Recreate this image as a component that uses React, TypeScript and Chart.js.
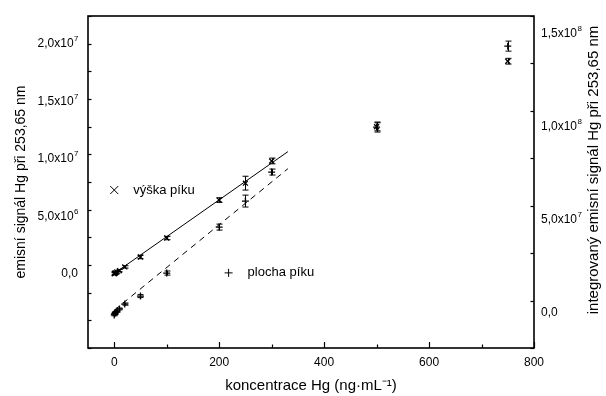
import React, { useEffect, useRef } from 'react';
import { Chart, registerables } from 'chart.js';

Chart.register(...registerables);

// ---- data ----
const concentrations = [0, 1, 2, 5, 10, 20, 50, 100, 200, 250, 300, 500, 750];
// peak height (left axis)
const peakHeight = [0.02e6, 0.06e6, 0.1e6, 0.18e6, 0.3e6, 0.62e6, 1.48e6, 3.13e6, 6.43e6, 7.9e6, 9.83e6, 1.28e7, 1.85e7];
const peakHeightErr = [0.1e6, 0.1e6, 0.1e6, 0.1e6, 0.1e6, 0.1e6, 0.15e6, 0.15e6, 0.2e6, 0.6e6, 0.25e6, 0.35e6, 0.25e6];
// peak area (right axis)
const peakArea = [-1.0e6, -0.3e6, 0.3e6, 1.0e6, 2.2e6, 4.8e6, 9.1e6, 2.15e7, 4.62e7, 6.02e7, 7.58e7, 1.0e8, 1.435e8];
const peakAreaErr = [0.5e6, 0.5e6, 0.5e6, 0.5e6, 0.5e6, 0.6e6, 0.8e6, 1.1e6, 1.6e6, 3.2e6, 1.6e6, 2.7e6, 2.7e6];
// calibration lines
const fitX = [0, 331];
const heightFitY = [0.05e6, 1.064e7];
const areaFitY = [1.5e6, 7.76e7];
// ticks
const xTickValues = [0, 200, 400, 600, 800];
const xTickLabels = ['0', '200', '400', '600', '800'];
const leftTickValues = [0, 5e6, 1e7, 1.5e7, 2e7];
const leftTickLabels = ['0,0', '5,0x10^6', '1,0x10^7', '1,5x10^7', '2,0x10^7'];
const rightTickValues = [0, 5e7, 1e8, 1.5e8];
const rightTickLabels = ['0,0', '5,0x10^7', '1,0x10^8', '1,5x10^8'];
// texts
const legendHeight = 'výška píku';
const legendArea = 'plocha píku';
const xTitle = 'koncentrace Hg (ng·mL\u207B\u00B9)';
const leftTitle = 'emisní signál Hg při 253,65 nm';
const rightTitle = 'integrovaný emisní signál Hg při 253,65 nm';

const FONT = "'Liberation Sans', Arial, sans-serif";

function lookup(values: number[], labels: string[], v: number, tol: number) {
  for (let i = 0; i < values.length; i++) {
    if (Math.abs(values[i] - v) < tol) return labels[i];
  }
  return '';
}

function drawSci(ctx: CanvasRenderingContext2D, label: string, x: number, y: number, align: 'left' | 'right') {
  const [base, exp] = label.split('^');
  ctx.textAlign = 'left';
  ctx.textBaseline = 'middle';
  ctx.font = `12px ${FONT}`;
  const wb = ctx.measureText(base).width;
  ctx.font = `8px ${FONT}`;
  const we = exp ? ctx.measureText(exp).width : 0;
  const start = align === 'right' ? x - wb - we : x;
  ctx.font = `12px ${FONT}`;
  ctx.fillText(base, start, y);
  if (exp) {
    ctx.font = `8px ${FONT}`;
    ctx.fillText(exp, start + wb + 0.5, y - 5);
  }
}

function drawMarker(ctx: CanvasRenderingContext2D, style: string, x: number, y: number, r: number) {
  ctx.beginPath();
  if (style === 'crossRot') {
    ctx.moveTo(x - r, y - r); ctx.lineTo(x + r, y + r);
    ctx.moveTo(x - r, y + r); ctx.lineTo(x + r, y - r);
  } else {
    ctx.moveTo(x - r, y); ctx.lineTo(x + r, y);
    ctx.moveTo(x, y - r); ctx.lineTo(x, y + r);
  }
  ctx.stroke();
}

const framePlugin = {
  id: 'frameAndExtras',
  afterDatasetsDraw(chart: any) {
    const ctx: CanvasRenderingContext2D = chart.ctx;
    const xs = chart.scales.x;
    // error bars
    const sets = [
      { axis: 'yL', vals: peakHeight, errs: peakHeightErr },
      { axis: 'yR', vals: peakArea, errs: peakAreaErr },
    ];
    ctx.save();
    ctx.strokeStyle = '#000';
    ctx.lineWidth = 1;
    sets.forEach((s) => {
      const ys = chart.scales[s.axis];
      concentrations.forEach((c, i) => {
        const px = Math.round(xs.getPixelForValue(c)) + 0.5;
        const y1 = ys.getPixelForValue(s.vals[i] - s.errs[i]);
        const y2 = ys.getPixelForValue(s.vals[i] + s.errs[i]);
        ctx.beginPath();
        ctx.moveTo(px, y1); ctx.lineTo(px, y2);
        ctx.moveTo(px - 3, y1); ctx.lineTo(px + 3, y1);
        ctx.moveTo(px - 3, y2); ctx.lineTo(px + 3, y2);
        ctx.stroke();
      });
    });
    // in-plot legend
    const yl = chart.scales.yL;
    const items = [
      { x: 0, y: 7.3e6, style: 'crossRot', text: legendHeight },
      { x: 218, y: 0.1e6, style: 'cross', text: legendArea },
    ];
    ctx.font = `13px ${FONT}`;
    ctx.fillStyle = '#000';
    ctx.textBaseline = 'middle';
    ctx.textAlign = 'left';
    items.forEach((it) => {
      const px = xs.getPixelForValue(it.x);
      const py = yl.getPixelForValue(it.y);
      ctx.lineWidth = 1;
      drawMarker(ctx, it.style, px, py, 4);
      ctx.fillText(it.text, px + 19, py);
    });
    ctx.restore();
  },
  afterDraw(chart: any) {
    const ctx: CanvasRenderingContext2D = chart.ctx;
    const a = chart.chartArea;
    ctx.save();
    ctx.strokeStyle = '#000';
    // tick marks (inward)
    ctx.lineWidth = 1.2;
    const xs = chart.scales.x;
    xs.ticks.forEach((t: any) => {
      const px = Math.round(xs.getPixelForValue(t.value)) + 0.5;
      const major = Math.abs(t.value % 200) < 1e-6;
      const len = major ? 6 : 3.5;
      ctx.beginPath(); ctx.moveTo(px, a.bottom); ctx.lineTo(px, a.bottom - len); ctx.stroke();
    });
    const yl = chart.scales.yL;
    yl.ticks.forEach((t: any) => {
      const py = Math.round(yl.getPixelForValue(t.value)) + 0.5;
      const major = Math.abs(t.value % 5e6) < 1;
      const len = major ? 7 : 3.5;
      ctx.beginPath(); ctx.moveTo(a.left, py); ctx.lineTo(a.left + len, py); ctx.stroke();
    });
    const yr = chart.scales.yR;
    yr.ticks.forEach((t: any) => {
      const py = Math.round(yr.getPixelForValue(t.value)) + 0.5;
      const major = Math.abs(t.value % 5e7) < 1;
      const len = major ? 6 : 3.5;
      ctx.beginPath(); ctx.moveTo(a.right, py); ctx.lineTo(a.right - len, py); ctx.stroke();
    });
    // frame
    ctx.lineWidth = 1.6;
    ctx.strokeRect(a.left, a.top, a.right - a.left, a.bottom - a.top);
    // y tick labels with superscript exponents
    ctx.fillStyle = '#000';
    leftTickValues.forEach((v, i) => {
      drawSci(ctx, leftTickLabels[i], a.left - 10, yl.getPixelForValue(v), 'right');
    });
    rightTickValues.forEach((v, i) => {
      drawSci(ctx, rightTickLabels[i], a.right + 7, yr.getPixelForValue(v), 'left');
    });
    // axis titles
    ctx.textAlign = 'center';
    ctx.textBaseline = 'middle';
    ctx.font = `15px ${FONT}`;
    ctx.fillText(xTitle, (a.left + a.right) / 2, 386);
    ctx.font = `14px ${FONT}`;
    ctx.save();
    ctx.translate(21, (a.top + a.bottom) / 2);
    ctx.rotate(-Math.PI / 2);
    ctx.fillText(leftTitle, 0, 0);
    ctx.restore();
    ctx.font = `15px ${FONT}`;
    ctx.save();
    ctx.translate(594, 170);
    ctx.rotate(-Math.PI / 2);
    ctx.fillText(rightTitle, 0, 0);
    ctx.restore();
    ctx.restore();
  },
};

export default function App() {
  const ref = useRef<HTMLCanvasElement | null>(null);

  useEffect(() => {
    if (!ref.current) return;
    const heightPts = concentrations.map((c, i) => ({ x: c, y: peakHeight[i] }));
    const areaPts = concentrations.map((c, i) => ({ x: c, y: peakArea[i] }));
    const heightFit = fitX.map((x, i) => ({ x, y: heightFitY[i] }));
    const areaFit = fitX.map((x, i) => ({ x, y: areaFitY[i] }));
    const tickFont = { family: FONT, size: 12 };

    const chart = new Chart(ref.current, {
      type: 'scatter',
      data: {
        datasets: [
          {
            label: legendHeight,
            data: heightFit,
            yAxisID: 'yL',
            showLine: true,
            borderColor: '#000',
            borderWidth: 1,
            pointRadius: 0,
          },
          {
            label: legendArea,
            data: areaFit,
            yAxisID: 'yR',
            showLine: true,
            borderColor: '#000',
            borderWidth: 1,
            borderDash: [6, 5],
            pointRadius: 0,
          },
          {
            label: legendHeight,
            data: heightPts,
            yAxisID: 'yL',
            pointStyle: 'crossRot',
            pointRadius: 3.5,
            borderColor: '#000',
            backgroundColor: '#000',
            pointBorderWidth: 1.3,
          },
          {
            label: legendArea,
            data: areaPts,
            yAxisID: 'yR',
            pointStyle: 'cross',
            pointRadius: 3.5,
            borderColor: '#000',
            backgroundColor: '#000',
            pointBorderWidth: 1.3,
          },
        ],
      },
      options: {
        animation: false,
        responsive: false,
        devicePixelRatio: 1,
        layout: { padding: { top: 16, left: 0, right: 0, bottom: 0 } },
        plugins: { legend: { display: false }, tooltip: { enabled: false } },
        scales: {
          x: {
            type: 'linear',
            min: -50,
            max: 800,
            grid: { display: false, drawTicks: false },
            border: { display: false },
            ticks: {
              stepSize: 100,
              includeBounds: false,
              autoSkip: false,
              maxRotation: 0,
              padding: 7,
              color: '#000',
              font: tickFont,
              callback: (v: any) => lookup(xTickValues, xTickLabels, Number(v), 1e-6),
            },
            afterFit: (s: any) => { s.height = 48; },
          },
          yL: {
            type: 'linear',
            position: 'left',
            min: -6.43e6,
            max: 2.243e7,
            grid: { display: false, drawTicks: false },
            border: { display: false },
            ticks: {
              stepSize: 2.5e6,
              includeBounds: false,
              autoSkip: false,
              color: 'rgba(0,0,0,0)',
              font: tickFont,
              callback: () => '',
            },
            afterFit: (s: any) => { s.width = 88; },
          },
          yR: {
            type: 'linear',
            position: 'right',
            min: -1.88e7,
            max: 1.597e8,
            grid: { display: false, drawTicks: false },
            border: { display: false },
            ticks: {
              stepSize: 2.5e7,
              includeBounds: false,
              autoSkip: false,
              color: 'rgba(0,0,0,0)',
              font: tickFont,
              callback: () => '',
            },
            afterFit: (s: any) => { s.width = 72; },
          },
        },
      },
      plugins: [framePlugin],
    } as any);

    return () => chart.destroy();
  }, []);

  return (
    <div style={{ position: 'absolute', left: 0, top: 0, width: 606, height: 396, background: '#fff' }}>
      <canvas ref={ref} width={606} height={396} style={{ width: 606, height: 396, display: 'block' }} />
    </div>
  );
}
